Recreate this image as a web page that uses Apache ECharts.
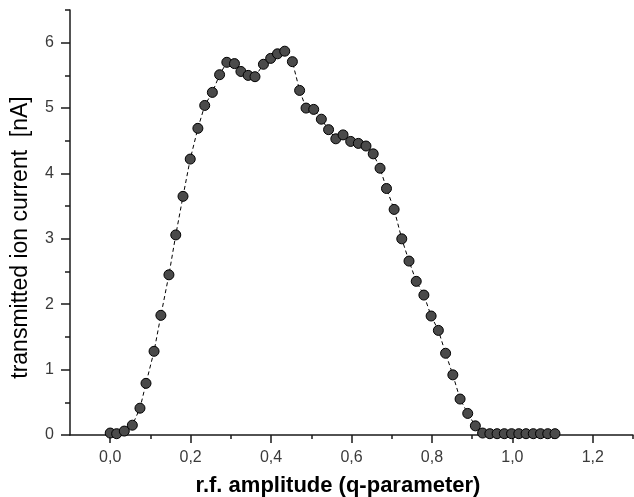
<!DOCTYPE html>
<html>
<head>
<meta charset="utf-8">
<script src="https://cdn.jsdelivr.net/npm/echarts@6/dist/echarts.min.js"></script>
<style>
html, body { margin: 0; padding: 0; background: #fff; }
#chart { width: 634px; height: 497px; }
</style>
</head>
<body>
<div id="chart"></div>
<script>
// q-parameter (x) and transmitted current in nA (y)
var qValues = [0.000, 0.016, 0.035, 0.055, 0.074, 0.089, 0.109, 0.126, 0.146, 0.163, 0.181, 0.199, 0.218, 0.235, 0.254,
    0.272, 0.290, 0.309, 0.325, 0.343, 0.360, 0.381, 0.399, 0.416, 0.434, 0.453, 0.471, 0.487, 0.506,
    0.525, 0.543, 0.561, 0.579, 0.598, 0.617, 0.636, 0.654, 0.671, 0.687, 0.706, 0.725,
    0.743, 0.761, 0.780, 0.798, 0.816, 0.834, 0.852, 0.870, 0.889, 0.908,
    0.926, 0.944, 0.962, 0.980, 0.998, 1.016, 1.034, 1.052, 1.070, 1.088, 1.106];
var currentValues = [0.03, 0.02, 0.06, 0.15, 0.41, 0.79, 1.28, 1.83, 2.45, 3.06, 3.65, 4.22, 4.69, 5.04, 5.24,
    5.51, 5.70, 5.68, 5.56, 5.50, 5.48, 5.67, 5.76, 5.83, 5.87, 5.71, 5.27, 5.00, 4.98,
    4.83, 4.67, 4.53, 4.59, 4.49, 4.46, 4.42, 4.30, 4.08, 3.77, 3.45, 3.00,
    2.66, 2.35, 2.14, 1.82, 1.60, 1.25, 0.92, 0.55, 0.33, 0.14,
    0.03, 0.02, 0.02, 0.02, 0.02, 0.02, 0.02, 0.02, 0.02, 0.02, 0.02];
// tick positions
var xMajorTicks = [0, 0.2, 0.4, 0.6, 0.8, 1.0, 1.2];
var xMinorTicks = [0.1, 0.3, 0.5, 0.7, 0.9, 1.1, 1.3];
var yMajorTicks = [0, 1, 2, 3, 4, 5, 6];
var yMinorTicks = [0.5, 1.5, 2.5, 3.5, 4.5, 5.5, 6.5];

var points = [];
for (var i = 0; i < qValues.length; i++) {
    points.push([qValues[i], currentValues[i]]);
}

var chart = echarts.init(document.getElementById('chart'));
var axisColor = '#1a1a1a';
var labelFont = { fontFamily: 'Liberation Sans', fontSize: 16, color: '#3a3a3a' };

var option = {
    backgroundColor: '#fff',
    animation: false,
    grid: { left: 70, right: 1, top: 10, bottom: 62, containLabel: false, outerBoundsMode: 'none' },
    xAxis: [{
        type: 'value', min: -0.1, max: 1.3,
        position: 'bottom',
        name: 'r.f. amplitude (q-parameter)',
        nameLocation: 'middle', nameGap: 40,
        nameTextStyle: { fontFamily: 'Liberation Sans', fontSize: 22, fontWeight: 'bold', color: '#000', padding: [0, 27, 0, 0] },
        axisLine: { onZero: false, lineStyle: { color: axisColor, width: 1.5 } },
        axisTick: { customValues: xMajorTicks, length: 8, lineStyle: { color: axisColor, width: 1.5 } },
        axisLabel: Object.assign({
            customValues: xMajorTicks, margin: 15,
            formatter: function (v) { return v.toFixed(1).replace('.', ','); }
        }, labelFont),
        splitLine: { show: false }
    }, {
        // minor ticks only
        type: 'value', min: -0.1, max: 1.3,
        position: 'bottom', offset: 0,
        axisLine: { show: false, onZero: false },
        axisTick: { customValues: xMinorTicks, length: 4, lineStyle: { color: axisColor, width: 1.5 } },
        axisLabel: { show: false },
        splitLine: { show: false }
    }],
    yAxis: [{
        type: 'value', min: 0, max: 6.5,
        position: 'left',
        name: 'transmitted ion current  [nA]',
        nameLocation: 'middle', nameGap: 38,
        nameTextStyle: { fontFamily: 'Liberation Sans', fontSize: 23, color: '#000', padding: [0, 30, 0, 0] },
        axisLine: { show: true, onZero: false, lineStyle: { color: axisColor, width: 1.5 } },
        axisTick: { show: true, customValues: yMajorTicks, length: 9, lineStyle: { color: axisColor, width: 1.5 } },
        axisLabel: Object.assign({ customValues: yMajorTicks, margin: 16 }, labelFont),
        splitLine: { show: false }
    }, {
        type: 'value', min: 0, max: 6.5,
        position: 'left', offset: 0,
        axisLine: { show: false, onZero: false },
        axisTick: { show: true, customValues: yMinorTicks, length: 5, lineStyle: { color: axisColor, width: 1.5 } },
        axisLabel: { show: false },
        splitLine: { show: false }
    }],
    series: [{
        type: 'line',
        data: points,
        xAxisIndex: 0, yAxisIndex: 0,
        symbol: 'circle', symbolSize: 10,
        lineStyle: { color: '#000', width: 1, type: [4, 3] },
        itemStyle: { color: '#4a4a4a', borderColor: '#000', borderWidth: 1 }
    }]
};
chart.setOption(option);
</script>
</body>
</html>
